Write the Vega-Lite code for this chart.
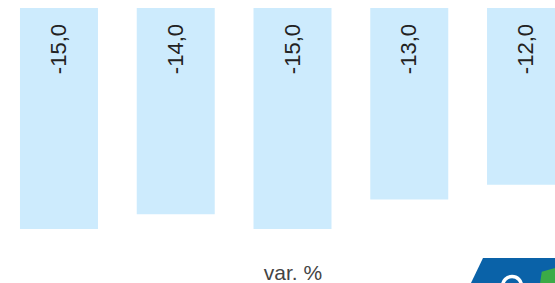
{
  "$schema": "https://vega.github.io/schema/vega-lite/v6.json",
  "width": 585,
  "height": 240,
  "autosize": "none",
  "padding": {"top": 8, "left": 0, "right": 0, "bottom": 35},
  "data": {"values": [
    {"cat": "A", "value": -15},
    {"cat": "B", "value": -14},
    {"cat": "C", "value": -15},
    {"cat": "D", "value": -13},
    {"cat": "E", "value": -12}
  ]},
  "encoding": {
    "x": {
      "field": "cat", "type": "nominal", "sort": null,
      "scale": {"paddingInner": 0.332, "paddingOuter": 0.171},
      "axis": {
        "title": "var. %", "labels": false, "ticks": false, "domain": false, "grid": false,
        "titleFontSize": 21, "titleFont": "Liberation Sans", "titleFontWeight": "normal",
        "titleColor": "#444444", "titlePadding": 14
      }
    }
  },
  "layer": [
    {
      "mark": {"type": "bar", "color": "#cdebfd"},
      "encoding": {
        "y": {"field": "value", "type": "quantitative",
              "scale": {"domain": [-16.29, 0], "nice": false, "zero": false},
              "axis": null}
      }
    },
    {
      "mark": {"type": "text", "angle": 270, "align": "right", "baseline": "middle",
               "dx": -16, "font": "Liberation Sans", "fontSize": 22, "color": "#222222"},
      "encoding": {
        "y": {"datum": 0},
        "text": {"field": "value", "type": "quantitative", "format": ".1f"}
      }
    },
    {
      "data": {"values": [{"logo": "blue"}]},
      "mark": {"type": "point", "shape": "M -0.717 -0.417 L 1 -0.417 L 1 1 L -1.4 1 Z",
               "size": 14400, "filled": true, "color": "#0a62a8", "opacity": 1, "strokeWidth": 0},
      "encoding": {"x": {"datum": "E"}, "y": {"datum": -18.67}}
    },
    {
      "data": {"values": [{"logo": "green"}]},
      "mark": {"type": "point", "shape": "M 0.262 -0.188 L 1 -0.4 L 1 1 L 0.083 1 Z",
               "size": 14400, "filled": true, "color": "#3bab47", "opacity": 1, "strokeWidth": 0},
      "encoding": {"x": {"datum": "E"}, "y": {"datum": -18.67}}
    },
    {
      "data": {"values": [{"logo": "ring"}]},
      "mark": {"type": "point", "shape": "M -0.391 0.05 A 0.158 0.158 0 1 1 -0.075 0.05 A 0.158 0.158 0 1 1 -0.391 0.05 Z",
               "size": 14400, "filled": false, "stroke": "#ffffff", "opacity": 1, "strokeWidth": 3.5},
      "encoding": {"x": {"datum": "E"}, "y": {"datum": -18.67}}
    }
  ],
  "config": {
    "view": {"stroke": null},
    "locale": {"number": {"decimal": ",", "thousands": ".", "grouping": [3], "currency": ["", " €"], "minus": "-"}}
  }
}
